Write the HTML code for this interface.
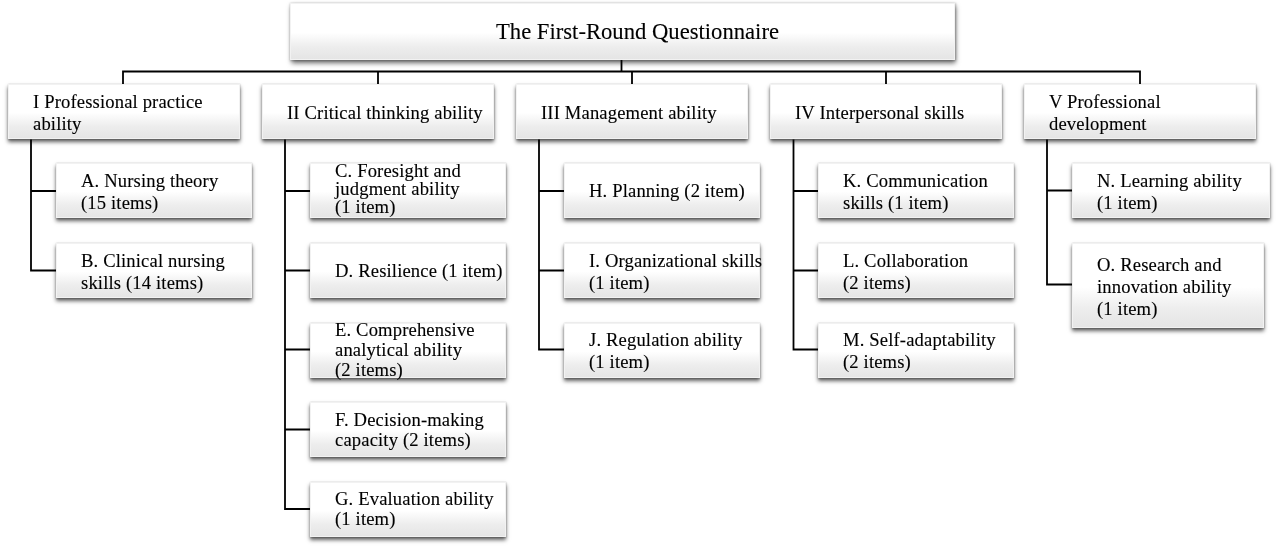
<!DOCTYPE html>
<html><head><meta charset="utf-8"><style>
html,body{margin:0;padding:0;background:#fff;width:1280px;height:547px;overflow:hidden;position:relative}
.b{position:absolute;box-sizing:border-box;border:1px solid #f2f2f2;
background:linear-gradient(to bottom,#ffffff 0%,#ffffff 52%,#ededed 78%,#e5e5e5 100%);
box-shadow:0 3px 4px 0 rgba(0,0,0,0.62),0 0.5px 1.5px 0.5px rgba(0,0,0,0.22)}
.t{position:absolute;will-change:transform;font-family:"Liberation Serif",serif;color:#000;white-space:nowrap;-webkit-text-stroke:0.12px #000;line-height:22px}
svg{position:absolute;left:0;top:0}
</style></head><body>
<svg width="1280" height="547" viewBox="0 0 1280 547"><path d="M621.5 59.5 V71.5 M123 84 V71.5 H1140 V84 M378 71.5 V84 M632 71.5 V84 M886 71.5 V84 M31 139.5 V270.5 H56 M31 191 H56 M285 139.5 V509 H310 M285 191 H310 M285 270.5 H310 M285 349.5 H310 M285 429.5 H310 M539 139.5 V349.5 H564 M539 191 H564 M539 270.5 H564 M793.5 139.5 V349.5 H818.5 M793.5 191 H818.5 M793.5 270.5 H818.5 M1047 139.5 V284.5 H1072 M1047 190.5 H1072" stroke="#000" stroke-width="1.8" fill="none"/></svg>
<div class="b" style="left:290px;top:3px;width:664.5px;height:56.5px;box-shadow:0.5px 3px 5px 0 rgba(0,0,0,0.6),0 0.5px 2px 0.5px rgba(0,0,0,0.2)"></div>
<div class="t" style="left:495.5px;top:21.46px;font-size:22.65px">The First-Round Questionnaire</div>
<div class="b" style="left:8px;top:84px;width:231.5px;height:55px"></div>
<div class="t" style="left:33.4px;top:90.62px;font-size:18.6px;letter-spacing:0.15px">I Professional practice</div>
<div class="t" style="left:33.4px;top:112.62px;font-size:18.6px;letter-spacing:0.15px">ability</div>
<div class="b" style="left:262px;top:84px;width:231.5px;height:55px"></div>
<div class="t" style="left:287.4px;top:101.92px;font-size:18.6px;letter-spacing:0.15px">II Critical thinking ability</div>
<div class="b" style="left:516px;top:84px;width:231.5px;height:55px"></div>
<div class="t" style="left:541.4px;top:101.92px;font-size:18.6px;letter-spacing:0.15px">III Management ability</div>
<div class="b" style="left:770px;top:84px;width:231.5px;height:55px"></div>
<div class="t" style="left:795.4px;top:101.92px;font-size:18.6px;letter-spacing:0.15px">IV Interpersonal skills</div>
<div class="b" style="left:1024px;top:84px;width:231.5px;height:55px"></div>
<div class="t" style="left:1049.4px;top:90.72px;font-size:18.6px;letter-spacing:0.15px">V Professional</div>
<div class="t" style="left:1049.4px;top:112.72px;font-size:18.6px;letter-spacing:0.15px">development</div>
<div class="b" style="left:56px;top:163px;width:196px;height:55px"></div>
<div class="t" style="left:81.4px;top:169.72px;font-size:18.6px;letter-spacing:0.15px">A. Nursing theory</div>
<div class="t" style="left:81.4px;top:191.52px;font-size:18.6px;letter-spacing:0.15px">(15 items)</div>
<div class="b" style="left:56px;top:243px;width:196px;height:55px"></div>
<div class="t" style="left:81.4px;top:249.72px;font-size:18.6px;letter-spacing:0.15px">B. Clinical nursing</div>
<div class="t" style="left:81.4px;top:271.52px;font-size:18.6px;letter-spacing:0.15px">skills (14 items)</div>
<div class="b" style="left:310px;top:163px;width:196px;height:55px"></div>
<div class="t" style="left:335.4px;top:159.62px;font-size:18.6px;letter-spacing:0.15px">C. Foresight and</div>
<div class="t" style="left:335.4px;top:177.92px;font-size:18.6px;letter-spacing:0.15px">judgment ability</div>
<div class="t" style="left:335.4px;top:196.42px;font-size:18.6px;letter-spacing:0.15px">(1 item)</div>
<div class="b" style="left:310px;top:243px;width:196px;height:55px"></div>
<div class="t" style="left:335.4px;top:260.12px;font-size:18.6px;letter-spacing:0.15px">D. Resilience (1 item)</div>
<div class="b" style="left:310px;top:322.5px;width:196px;height:55.0px"></div>
<div class="t" style="left:335.4px;top:318.62px;font-size:18.6px;letter-spacing:0.15px">E. Comprehensive</div>
<div class="t" style="left:335.4px;top:338.72px;font-size:18.6px;letter-spacing:0.15px">analytical ability</div>
<div class="t" style="left:335.4px;top:359.22px;font-size:18.6px;letter-spacing:0.15px">(2 items)</div>
<div class="b" style="left:310px;top:402px;width:196px;height:55px"></div>
<div class="t" style="left:335.4px;top:408.52px;font-size:18.6px;letter-spacing:0.15px">F. Decision-making</div>
<div class="t" style="left:335.4px;top:428.72px;font-size:18.6px;letter-spacing:0.15px">capacity (2 items)</div>
<div class="b" style="left:310px;top:482px;width:196px;height:55px"></div>
<div class="t" style="left:335.4px;top:488.02px;font-size:18.6px;letter-spacing:0.15px">G. Evaluation ability</div>
<div class="t" style="left:335.4px;top:508.32px;font-size:18.6px;letter-spacing:0.15px">(1 item)</div>
<div class="b" style="left:564px;top:163px;width:196px;height:55px"></div>
<div class="t" style="left:589.4px;top:180.12px;font-size:18.6px;letter-spacing:0.15px">H. Planning (2 item)</div>
<div class="b" style="left:564px;top:243px;width:196px;height:55px"></div>
<div class="t" style="left:589.4px;top:249.72px;font-size:18.6px;letter-spacing:0.15px">I. Organizational skills</div>
<div class="t" style="left:589.4px;top:271.52px;font-size:18.6px;letter-spacing:0.15px">(1 item)</div>
<div class="b" style="left:564px;top:322.5px;width:196px;height:55.0px"></div>
<div class="t" style="left:589.4px;top:329.22px;font-size:18.6px;letter-spacing:0.15px">J. Regulation ability</div>
<div class="t" style="left:589.4px;top:351.02px;font-size:18.6px;letter-spacing:0.15px">(1 item)</div>
<div class="b" style="left:818px;top:163px;width:196px;height:55px"></div>
<div class="t" style="left:843.4px;top:169.72px;font-size:18.6px;letter-spacing:0.15px">K. Communication</div>
<div class="t" style="left:843.4px;top:191.52px;font-size:18.6px;letter-spacing:0.15px">skills (1 item)</div>
<div class="b" style="left:818px;top:243px;width:196px;height:55px"></div>
<div class="t" style="left:843.4px;top:249.72px;font-size:18.6px;letter-spacing:0.15px">L. Collaboration</div>
<div class="t" style="left:843.4px;top:271.52px;font-size:18.6px;letter-spacing:0.15px">(2 items)</div>
<div class="b" style="left:818px;top:322.5px;width:196px;height:55.0px"></div>
<div class="t" style="left:843.4px;top:329.22px;font-size:18.6px;letter-spacing:0.15px">M. Self-adaptability</div>
<div class="t" style="left:843.4px;top:351.02px;font-size:18.6px;letter-spacing:0.15px">(2 items)</div>
<div class="b" style="left:1072px;top:163px;width:197.5px;height:55px"></div>
<div class="t" style="left:1097.4px;top:169.72px;font-size:18.6px;letter-spacing:0.15px">N. Learning ability</div>
<div class="t" style="left:1097.4px;top:191.52px;font-size:18.6px;letter-spacing:0.15px">(1 item)</div>
<div class="b" style="left:1072px;top:242.5px;width:192px;height:85.5px"></div>
<div class="t" style="left:1097.4px;top:254.12px;font-size:18.6px;letter-spacing:0.15px">O. Research and</div>
<div class="t" style="left:1097.4px;top:276.22px;font-size:18.6px;letter-spacing:0.15px">innovation ability</div>
<div class="t" style="left:1097.4px;top:298.32px;font-size:18.6px;letter-spacing:0.15px">(1 item)</div>
</body></html>
